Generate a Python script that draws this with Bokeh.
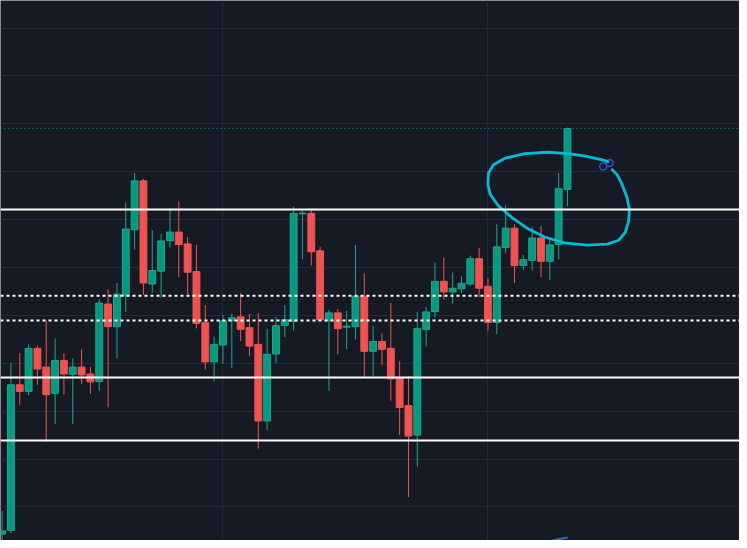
from bokeh.plotting import figure
from bokeh.models import Range1d, Span, Grid, FixedTicker, ColumnDataSource
from bokeh.embed import file_html
from bokeh.resources import INLINE

# ---- candle data (price units) ----
OPEN = [6.5, 10.3, 158, 151.3, 195, 176, 149.3, 182.7, 168.7, 176,
        169, 161.3, 240, 217, 248.3, 315.3, 365, 260.3, 273.3, 304.3,
        313, 301, 273, 221, 181.3, 198.3, 223, 227, 216, 199,
        121.3, 189.3, 218.3, 222.3, 331.5, 332, 294, 223, 231, 216.5,
        217, 248, 192, 202, 195, 165, 137, 107, 214, 232.3,
        263, 252.3, 255.3, 260.3, 286, 258, 221.3, 297.3, 317, 279.3,
        284.3, 307, 283.3, 300.3, 356.3]
HIGH = [30, 180, 190, 199, 198, 223, 205, 190, 185, 194,
        176, 245, 255, 261, 343, 373, 367, 315, 311, 337,
        344, 308, 300, 239, 207, 229, 230, 251, 230, 231,
        215, 227, 239, 339, 335.3, 336, 298, 234, 235, 233,
        300, 271, 218, 210, 241, 182, 167, 232, 237, 282,
        287, 272, 268, 289, 297, 266, 321, 340, 321, 290,
        318, 319, 308, 373, 419]
LOW = [-5, 7.3, 137.3, 147.3, 158, 100, 118, 148, 118, 159,
       149, 152, 135, 185, 232, 295.3, 249.3, 251.3, 246.3, 297.3,
       267.3, 250.3, 215.3, 173.3, 161.3, 179.3, 175.3, 202.3, 187.3, 93.3,
       112.3, 180.3, 206.3, 213, 285.3, 279, 223.5, 152, 189, 194,
       204, 166, 167, 178, 142, 107, 44, 75, 197, 226.3,
       244.3, 240.3, 251.3, 258.3, 247, 212.3, 209.3, 291.3, 261.3, 274.3,
       274.3, 267.3, 264.3, 285.3, 339.3]
CLOSE = [9.7, 158, 151.3, 195, 174, 148, 182.7, 169, 176, 168,
         161, 241, 217, 250, 316, 365, 261.3, 274, 304, 313,
         300.3, 272.3, 220.3, 181.3, 199, 223, 226, 214.3, 197.3, 121.3,
         189, 218, 224, 332, 332.3, 293, 224, 231, 215, 217.5,
         248, 192, 202, 194, 164, 135, 106, 215, 232, 263,
         252.3, 256, 261, 286, 256, 221.3, 298, 317, 279, 285,
         307, 283.3, 300, 357, 418]
INDEX = list(range(len(OPEN)))

# horizontal levels drawn on the chart
SOLID_LEVELS = [336, 165.5, 101.5]
DOTTED_LEVELS = [248.3, 223.3]

# hand-drawn brush (bar index, price)
DRAW_X = [68.58, 67.94, 65.89, 64.02, 61.78, 59.17, 56.93, 55.62, 55.06, 54.99,
          55.25, 56.18, 57.68, 59.54, 61.41, 63.65, 66.26, 68.50, 69.81, 70.56,
          70.93, 71.01, 70.74, 70.18, 69.62, 69.06]
DRAW_Y = [384.5, 386.3, 390.3, 392.7, 394, 392.7, 388, 381.3, 373, 361.3,
          351.3, 339.7, 328, 316.3, 308, 302, 299.7, 300.7, 304.7, 313,
          324.7, 336.3, 348, 361.3, 371.3, 376.3]
HANDLE_X = [68.05, 68.78]
HANDLE_Y = [379.5, 383]
TAIL_X = [61.9, 62.64, 64.02]
TAIL_Y = [-0.8, 0.7, 3]

# grid positions
V_GRID = [25, 55]
H_GRID = [34 + 48.6 * k for k in range(11)]

BG = "#161a25"
GRID_C = "#252935"
UP = "#089981"
UP_EDGE = "#1fa58d"
DOWN = "#ef5350"

up = [c >= o for o, c in zip(OPEN, CLOSE)]
src = ColumnDataSource(dict(
    x=INDEX,
    top=[max(o, c) for o, c in zip(OPEN, CLOSE)],
    bottom=[min(o, c) for o, c in zip(OPEN, CLOSE)],
    high=HIGH,
    low=LOW,
    fill=[UP if u else DOWN for u in up],
    edge=[UP_EDGE if u else DOWN for u in up],
    wick=[UP_EDGE if u else DOWN for u in up],
))

p = figure(width=739, height=540,
           x_range=Range1d(-0.18, 83.47), y_range=Range1d(0, 548),
           output_backend="svg", toolbar_location=None,
           x_axis_location=None, y_axis_location=None,
           background_fill_color=BG, border_fill_color=BG,
           min_border=0, outline_line_color=None)

p.center = [r for r in p.center if not isinstance(r, Grid)]
p.add_layout(Grid(dimension=0, ticker=FixedTicker(ticks=V_GRID),
                  grid_line_color=GRID_C, grid_line_width=1))
p.add_layout(Grid(dimension=1, ticker=FixedTicker(ticks=H_GRID),
                  grid_line_color=GRID_C, grid_line_width=1))

p.segment(x0="x", y0="low", x1="x", y1="high", line_color="wick",
          line_width=1, source=src)
p.vbar(x="x", width=0.78, top="top", bottom="bottom", fill_color="fill",
       line_color="edge", line_width=1, source=src)

for lv in SOLID_LEVELS:
    p.add_layout(Span(location=lv, dimension="width", line_color="#ffffff",
                      line_width=2))
for lv in DOTTED_LEVELS:
    p.add_layout(Span(location=lv, dimension="width", line_color="#ffffff",
                      line_width=2, line_dash="3 3"))
p.add_layout(Span(location=CLOSE[-1], dimension="width", line_color="#10a58b",
                  line_width=1, line_dash="1 3"))

p.scatter(HANDLE_X, HANDLE_Y, marker="circle", size=7, fill_color=None,
          line_color="#2a52d0", line_width=1.5)
p.line(DRAW_X, DRAW_Y, line_color="#00bcd4", line_width=2.8,
       line_join="round", line_cap="round")
p.line(TAIL_X, TAIL_Y, line_color="#2f6fa8", line_width=2)

open("out.html", "w").write(file_html(p, INLINE))
